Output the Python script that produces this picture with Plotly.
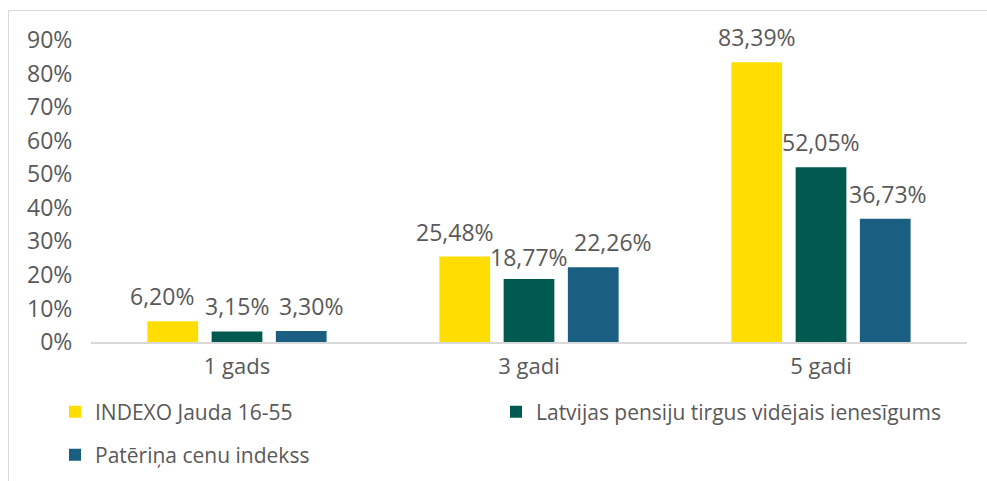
import plotly.graph_objects as go

categories = ["1 gads", "3 gadi", "5 gadi"]
series_names = ["INDEXO Jauda 16-55", "Latvijas pensiju tirgus vidējais ienesīgums", "Patēriņa cenu indekss"]
indexo = [6.20, 25.48, 83.39]
tirgus = [3.15, 18.77, 52.05]
pci = [3.30, 22.26, 36.73]
colors = ["#FFDD00", "#005A50", "#1A5E82"]
tick_vals = [0, 10, 20, 30, 40, 50, 60, 70, 80, 90]
tick_text = [f"{v}%" for v in tick_vals]

# style: legend placement (pixels) and manual label nudges (pixels), as in the original
legend_ids = ["legend", "legend2", "legend3"]
legend_px = [(55, 412), (496, 412), (55, 455)]
label_dx = [[-11, -10, 0], [0, 0, 0], [10, 20, 3]]
label_dy = [[0, 0, 0], [0, -3, 0], [0, 0, 0]]

FONT = "Open Sans"
GRAY = "#595959"
W, H = 987, 481
ML, MR, MT, MB = 91, 20, 40, 139
BARGAP, BARGROUPGAP = 0.34, 0.21
plot_w = W - ML - MR
plot_h = H - MT - MB
slot_px = plot_w / len(categories) * (1 - BARGAP) / 3


def px_to_paper(px, py):
    return (px - ML) / plot_w, (MT + plot_h - py) / plot_h


fig = go.Figure()
for i, (name, vals, col, lg) in enumerate(zip(series_names, [indexo, tirgus, pci], colors, legend_ids)):
    fig.add_trace(go.Bar(
        x=categories, y=vals, name=name, legend=lg,
        marker=dict(color=col, line=dict(width=0)),
    ))
    for j, (c, v) in enumerate(zip(categories, vals)):
        fig.add_annotation(
            x=c, y=v, xref="x", yref="y",
            text=f"{v:.2f}%".replace(".", ","),
            showarrow=False, yanchor="bottom", xanchor="center",
            xshift=(i - 1) * slot_px + label_dx[i][j], yshift=7 + label_dy[i][j],
            font=dict(family=FONT, size=23, color=GRAY),
        )

legend_layout = {}
for lg, (lx, ly) in zip(legend_ids, legend_px):
    px_, py_ = px_to_paper(lx, ly)
    legend_layout[lg] = dict(
        orientation="h", x=px_, xanchor="left", y=py_, yanchor="middle",
        font=dict(family=FONT, size=21, color=GRAY), bgcolor="rgba(0,0,0,0)",
    )

fig.update_layout(
    width=W, height=H,
    margin=dict(l=ML, r=MR, t=MT, b=MB, autoexpand=False),
    plot_bgcolor="white", paper_bgcolor="white",
    barmode="group", bargap=BARGAP, bargroupgap=BARGROUPGAP,
    font=dict(family=FONT, size=21, color=GRAY),
    showlegend=True,
    **legend_layout,
)
fig.update_yaxes(
    range=[0, 90], tickvals=tick_vals, ticktext=tick_text,
    showgrid=False, zeroline=False, showline=False,
    ticks="outside", ticklen=13, tickcolor="rgba(0,0,0,0)",
    tickfont=dict(family=FONT, size=23, color=GRAY),
)
fig.update_xaxes(
    showline=True, linecolor="#D9D9D9", linewidth=2,
    ticks="outside", ticklen=4, tickcolor="rgba(0,0,0,0)",
    tickfont=dict(family=FONT, size=22, color=GRAY),
)
# outer chart frame (light gray)
fx, fy = px_to_paper(8.5, 10.5)
fig.add_shape(type="rect", xref="paper", yref="paper",
              x0=fx, x1=2, y0=-2, y1=fy,
              line=dict(color="#D9D9D9", width=1), fillcolor="rgba(0,0,0,0)", layer="below")

fig.write_html("out.html")
